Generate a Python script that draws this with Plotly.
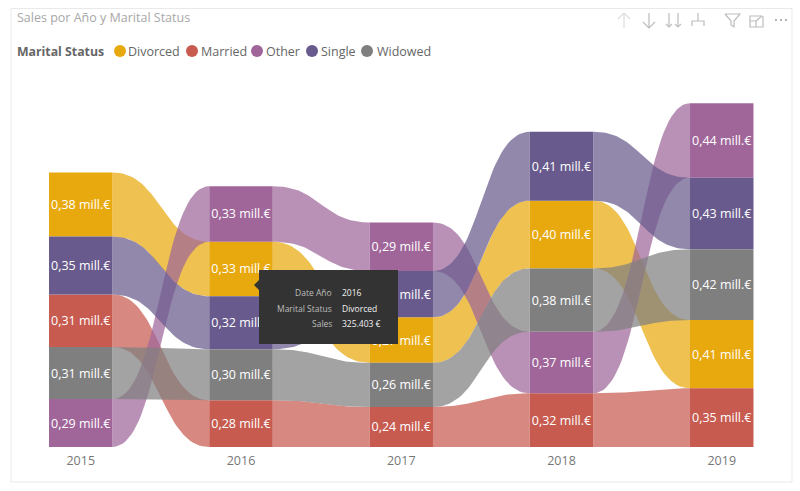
"""
Ribbon chart de Sales por Ano e Marital Status
"""

import plotly.graph_objects as go
import pandas as pd

anos = [2015, 2016, 2017, 2018, 2019]
divorced = [0.382, 0.3254, 0.271, 0.404, 0.407]
married = [0.313, 0.279, 0.239, 0.320, 0.350]
other = [0.286, 0.331, 0.290, 0.367, 0.444]
single = [0.346, 0.316, 0.276, 0.411, 0.427]
widowed = [0.310, 0.304, 0.263, 0.378, 0.422]

status = ['Divorced', 'Married', 'Other', 'Single', 'Widowed']
cores = ['#E8A90E', '#C75B50', '#A0669A', '#685A8C', '#7F7F7F']
cores_ribbon = ['rgba(232,169,14,0.72)', 'rgba(199,91,80,0.72)', 'rgba(160,102,154,0.72)',
                'rgba(104,90,140,0.72)', 'rgba(127,127,127,0.72)']

tooltip_rotulos = ['Date Año', 'Marital Status', 'Sales']
tooltip_valores = ['2016', 'Divorced', '325.403 €']

fonte = 'Open Sans'
LARGURA_BARRA = 0.396
ESQ, DIR, TOPO, BASE = 12, 8, 70, 44

def _px(x):
    """Pixel horizontal para coordenada paper"""
    return (x - ESQ) / (800 - ESQ - DIR)

def _py(y):
    """Pixel vertical para coordenada paper"""
    return (491 - BASE - y) / (491 - TOPO - BASE)

def _caminho(pontos, fechar=False):
    """Monta o path SVG de um shape a partir de pixels"""
    texto = ' '.join(('M' if i == 0 else 'L') + f'{_px(x):.5f},{_py(y):.5f}' for i, (x, y) in enumerate(pontos))
    return texto + (' Z' if fechar else '')

def _calcular_bases(df):
    """Empilha cada ano do menor para o maior valor"""
    bases = df.copy()
    for ano in df.index:
        bases.loc[ano] = df.loc[ano].sort_values().cumsum().shift(1).fillna(0)[df.columns]
    return bases

def _curva(x0, x1, y0, y1, n=40):
    """Curva de Bezier com os controles no meio do vao"""
    xs, ys = [], []
    meio = (x0 + x1) / 2
    for i in range(n + 1):
        t = i / n
        a, b, c, d = (1 - t) ** 3, 3 * t * (1 - t) ** 2, 3 * t ** 2 * (1 - t), t ** 3
        xs.append(a * x0 + (b + c) * meio + d * x1)
        ys.append((a + b) * y0 + (c + d) * y1)
    return xs, ys

def criar_ribbon():
    """Cria o ribbon chart com faixas, barras e o tooltip fixo"""

    df = pd.DataFrame(dict(zip(status, [divorced, married, other, single, widowed])), index=anos)
    bases = _calcular_bases(df)

    fig = go.Figure()

    # Faixas entre um ano e o seguinte
    for nome, cor in zip(status, cores_ribbon):
        for a, b in zip(anos[:-1], anos[1:]):
            x0, x1 = a + LARGURA_BARRA / 2, b - LARGURA_BARRA / 2
            xs_cima, ys_cima = _curva(x0, x1, bases.loc[a, nome] + df.loc[a, nome], bases.loc[b, nome] + df.loc[b, nome])
            xs_baixo, ys_baixo = _curva(x0, x1, bases.loc[a, nome], bases.loc[b, nome])
            fig.add_trace(go.Scatter(x=xs_cima + xs_baixo[::-1], y=ys_cima + ys_baixo[::-1],
                                     mode='lines', line=dict(width=0), fill='toself',
                                     fillcolor=cor, hoverinfo='skip', showlegend=False))

    # Barras de cada ano
    for nome, cor in zip(status, cores):
        fig.add_trace(go.Bar(name=nome,
                             x=anos,
                             y=df[nome],
                             base=bases[nome],
                             width=LARGURA_BARRA,
                             marker_color=cor,
                             marker_line_width=0,
                             text=[f'{v:.2f}'.replace('.', ',') + ' mill.€' for v in df[nome]],
                             textposition='inside',
                             insidetextanchor='middle',
                             textangle=0,
                             constraintext='none',
                             textfont=dict(size=12.5, color='white', family=fonte),
                             showlegend=False))

    formas = []
    notas = []

    # Moldura do cartao
    formas.append(dict(type='rect', xref='paper', yref='paper', x0=_px(11), x1=_px(792), y0=_py(8.5), y1=_py(482),
                       line=dict(color='#E9E9E9', width=1), fillcolor='rgba(0,0,0,0)', layer='below'))

    # Titulo e legenda
    notas.append(dict(x=_px(15), y=_py(18), text='Sales por Año y Marital Status',
                      font=dict(size=12.5, color='#A8A8A8')))
    notas.append(dict(x=_px(15), y=_py(51), text='<b>Marital Status</b>', font=dict(size=12.3, color='#666666')))
    for nome, cor, cx, tx in zip(status, cores, [120, 192, 257, 312, 367], [126, 199, 264, 319, 375]):
        formas.append(dict(type='circle', xref='paper', yref='paper', x0=_px(cx - 6), x1=_px(cx + 6),
                           y0=_py(45), y1=_py(57), fillcolor=cor, line_width=0))
        notas.append(dict(x=_px(tx), y=_py(51), text=nome, font=dict(size=12.5, color='#666666')))

    # Icones do cabecalho
    icones = [([(624, 28), (624, 13)], '#DEDEDE'), ([(618, 19), (624, 13), (630, 19)], '#DEDEDE'),
              ([(649, 13), (649, 28)], '#BDBDBD'), ([(643, 22), (649, 28), (655, 22)], '#BDBDBD'),
              ([(669, 13), (669, 26)], '#BDBDBD'), ([(678, 13), (678, 26)], '#BDBDBD'),
              ([(666, 24), (669, 27), (672, 24)], '#BDBDBD'), ([(675, 24), (678, 27), (681, 24)], '#BDBDBD'),
              ([(698, 13), (698, 21)], '#BDBDBD'), ([(692, 26), (692, 21), (704, 21), (704, 26)], '#BDBDBD'),
              ([(725, 14), (740, 14), (734, 21), (734, 27), (731, 25), (731, 21), (725, 14)], '#BDBDBD'),
              ([(762, 16), (750, 16), (750, 27), (763, 27), (763, 16)], '#BDBDBD'),
              ([(750, 21), (756, 21), (756, 27)], '#BDBDBD'), ([(756, 21), (762, 16)], '#BDBDBD')]
    for pontos, cor in icones:
        formas.append(dict(type='path', xref='paper', yref='paper', path=_caminho(pontos),
                           line=dict(color=cor, width=1.2)))
    for cx in [776, 781, 786]:
        formas.append(dict(type='circle', xref='paper', yref='paper', x0=_px(cx - 1), x1=_px(cx + 1),
                           y0=_py(19), y1=_py(21), fillcolor='#9A9A9A', line_width=0))

    # Tooltip fixo
    formas.append(dict(type='path', xref='paper', yref='paper', layer='above', fillcolor='#333333', line_width=0,
                       path=_caminho([(259, 270), (398, 270), (398, 344), (259, 344), (259, 290), (254, 285), (259, 280)], True)))
    for y, rotulo, valor in zip([292, 308, 323], tooltip_rotulos, tooltip_valores):
        notas.append(dict(x=_px(334), y=_py(y), text=rotulo, xanchor='right', font=dict(size=8.5, color='#BDBDBD')))
        notas.append(dict(x=_px(340), y=_py(y), text=valor, font=dict(size=8.5, color='#F2F2F2')))

    for nota in notas:
        nota.setdefault('xanchor', 'left')
        nota.update(xref='paper', yref='paper', yanchor='middle', showarrow=False)

    fig.update_layout(
        width=800,
        height=491,
        barmode='overlay',
        showlegend=False,
        paper_bgcolor='white',
        plot_bgcolor='white',
        font=dict(family=fonte),
        margin=dict(t=TOPO, b=BASE, l=ESQ, r=DIR),
        shapes=formas,
        annotations=notas
    )

    fig.update_xaxes(range=[2015 + (ESQ - 80.75) / 160.25, 2015 + (792 - 80.75) / 160.25],
                     tickvals=anos, ticktext=[str(a) for a in anos], showgrid=False, zeroline=False,
                     showline=False, ticks='', ticklabelstandoff=4, tickfont=dict(size=12.5, color='#777777'))
    fig.update_yaxes(range=[0, (491 - TOPO - BASE) / 167.7], visible=False)

    return fig

fig = criar_ribbon()
fig.write_html("out.html", config=dict(displayModeBar=False), post_script="document.body.style.margin='0';")
